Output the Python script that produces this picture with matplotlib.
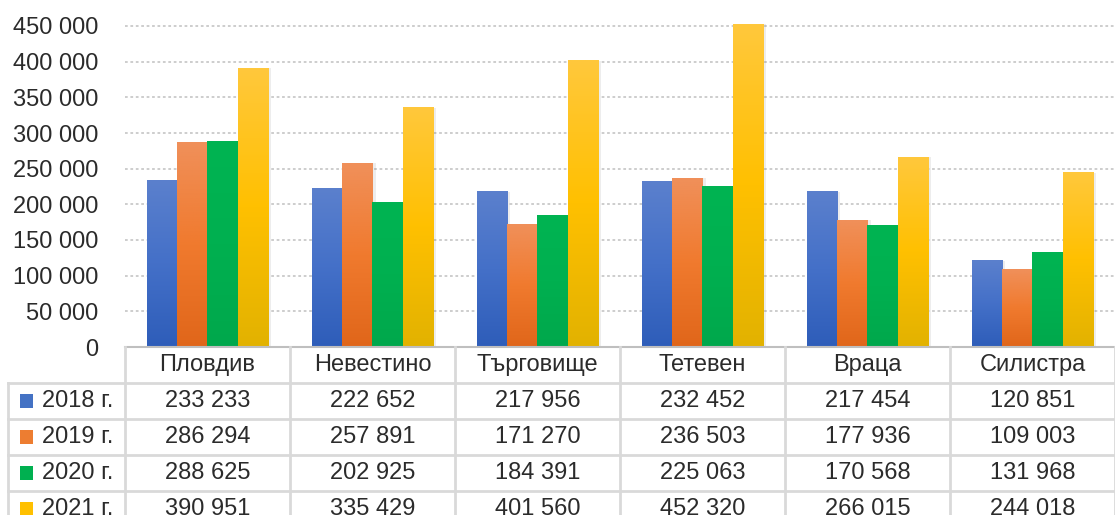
import numpy as np
import matplotlib
matplotlib.use('agg')
import matplotlib.pyplot as plt
from matplotlib.colors import LinearSegmentedColormap
from matplotlib.patches import Rectangle

# data
cities = ["Пловдив", "Невестино", "Търговище", "Тетевен", "Враца", "Силистра"]
years = ["2018 г.", "2019 г.", "2020 г.", "2021 г."]
v2018 = [233233, 222652, 217956, 232452, 217454, 120851]
v2019 = [286294, 257891, 171270, 236503, 177936, 109003]
v2020 = [288625, 202925, 184391, 225063, 170568, 131968]
v2021 = [390951, 335429, 401560, 452320, 266015, 244018]
yticks = [0, 50000, 100000, 150000, 200000, 250000, 300000, 350000, 400000, 450000]

series = [v2018, v2019, v2020, v2021]
# bottom, middle, top colours of the gradient
grads = [["#2e5db9", "#4470c8", "#5b80cd"],
         ["#e0661a", "#f07a2e", "#f0905a"],
         ["#00a84c", "#00b050", "#00b452"],
         ["#e2b200", "#ffc000", "#ffc83c"]]
flat = ["#4472c4", "#ed7d31", "#00b050", "#ffc000"]

plt.rcParams['font.family'] = ['Liberation Sans', 'DejaVu Sans']
txtc = "#2b2b2b"
fs = 17

W, H = 1115, 515
fig = plt.figure(figsize=(W / 100, H / 100), dpi=100)

x0 = 125
cw = 165
zero_y = 347
ppu = 321 / 450000.0
ytop = 455000
ax = fig.add_axes([x0 / W, (H - zero_y) / H, 6 * cw / W, ytop * ppu / H])
ax.set_xlim(0, 6)
ax.set_ylim(0, ytop)

for s in ax.spines.values():
    s.set_visible(False)
ax.set_xticks([])
ax.set_yticks(yticks)
ax.set_yticklabels(["{:,}".format(t).replace(",", " ") for t in yticks], fontsize=fs, color=txtc)
ax.tick_params(axis='y', length=0, pad=19)
for t in yticks[1:]:
    ax.plot([0, 6], [t, t], color="#c9c9c9", lw=1.3, linestyle=(0, (1.5, 1.5)), zorder=1)

bw = 0.183
start = 0.133
grad = np.linspace(0, 1, 256).reshape(-1, 1)
for k, vals in enumerate(series):
    cmap = LinearSegmentedColormap.from_list("c%d" % k, grads[k])
    for i, v in enumerate(vals):
        xl = i + start + k * bw
        # soft shadow to the right
        ax.add_patch(Rectangle((xl + 0.02, 0), bw, v, color="#000000", alpha=0.07,
                               lw=0, zorder=2, clip_on=False))
        ax.imshow(grad, extent=[xl, xl + bw, 0, v], origin='lower', aspect='auto',
                  cmap=cmap, zorder=3, clip_on=False)
ax.set_xlim(0, 6)
ax.set_ylim(0, ytop)

# data table
tab = fig.add_axes([x0 / W, (H - zero_y - 180) / H, 6 * cw / W, 180 / H])
tab.set_xlim(0, 6)
tab.set_ylim(5, 0)
tab.axis('off')
lc = "#d9d9d9"
xl_lab = (8 - x0) / cw
tab.plot([0, 6], [0, 0], color="#bfbfbf", lw=1.5, clip_on=False)
for r in range(1, 6):
    tab.plot([xl_lab, 6], [r, r], color=lc, lw=2, clip_on=False)
for c in range(0, 7):
    tab.plot([c, c], [0, 5], color=lc, lw=2, clip_on=False)
tab.plot([xl_lab, xl_lab], [1, 5], color=lc, lw=2, clip_on=False)

for i, name in enumerate(cities):
    tab.text(i + 0.5, 0.5, name, ha='center', va='center', fontsize=fs, color=txtc)
for k, vals in enumerate(series):
    r = k + 1.5
    tab.add_patch(Rectangle(((20 - x0) / cw, r - 0.19), 13 / cw, 0.38, color=flat[k],
                            lw=0, clip_on=False))
    tab.text((42 - x0) / cw, r, years[k], ha='left', va='center', fontsize=fs, color=txtc)
    for i, v in enumerate(vals):
        tab.text(i + 0.5, r, "{:,}".format(v).replace(",", " "), ha='center', va='center',
                 fontsize=fs, color=txtc)

fig.savefig("out.png", dpi=100)
